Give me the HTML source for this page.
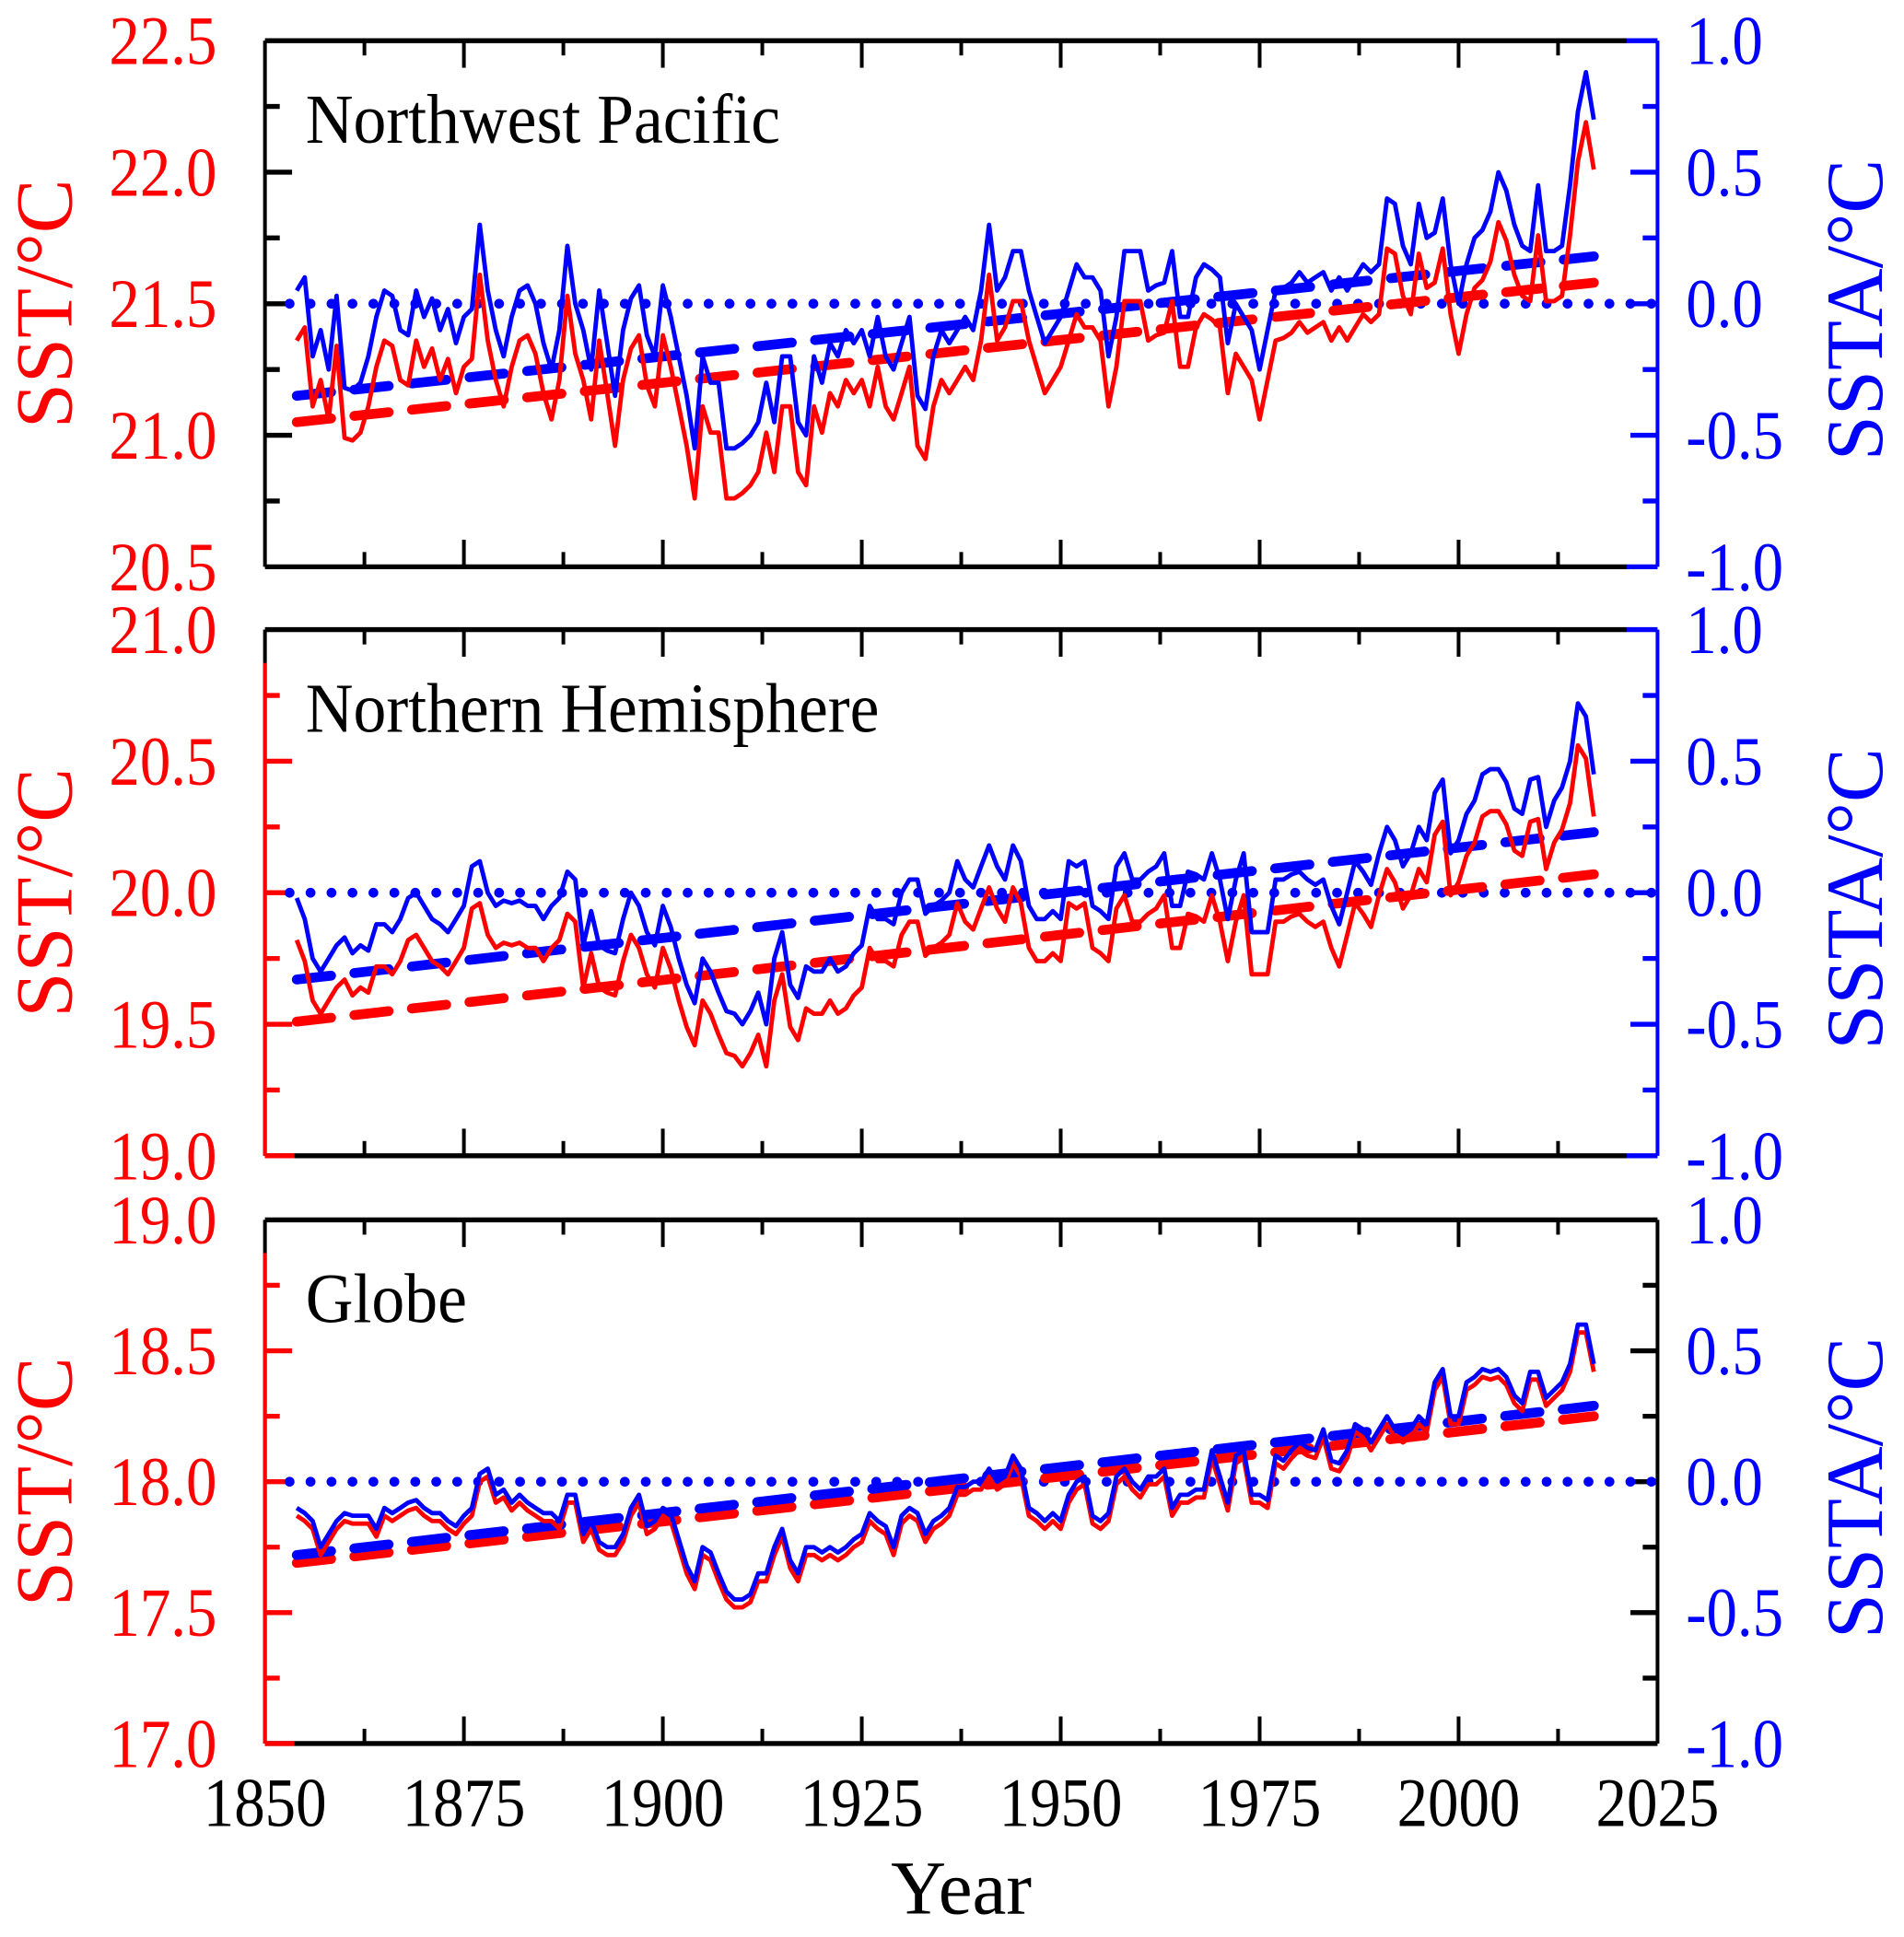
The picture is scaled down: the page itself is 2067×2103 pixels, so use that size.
<!DOCTYPE html>
<html><head><meta charset="utf-8"><style>
html,body{margin:0;padding:0;background:#fff}
svg{display:block}
text{font-family:"Liberation Serif","DejaVu Serif",serif}
</style></head><body>
<svg id="chart" width="2067" height="2103" viewBox="0 0 1545 1572" preserveAspectRatio="none" xmlns="http://www.w3.org/2000/svg">
<text x="780" y="1553" font-size="62" text-anchor="middle">Year</text>
</svg>
<script>
const years = [];
for (let y = 1854; y <= 2017; y++) years.push(y);
const xTickLabels = ["1850","1875","1900","1925","1950","1975","2000","2025"];
const panelTitles = ["Northwest Pacific","Northern Hemisphere","Globe"];
const sstTicks1 = ["20.5","21.0","21.5","22.0","22.5"];
const sstTicks2 = ["19.0","19.5","20.0","20.5","21.0"];
const sstTicks3 = ["17.0","17.5","18.0","18.5","19.0"];
const sstaTicks = ["-1.0","-0.5","0.0","0.5","1.0"];
const climatology = [21.31, 19.84, 17.97];
const sstaNWP = [0.05,0.1,-0.2,-0.1,-0.25,0.03,-0.32,-0.33,-0.3,-0.2,-0.05,0.05,0.03,-0.1,-0.12,0.05,-0.05,0.02,-0.1,-0.02,-0.15,-0.05,-0.02,0.3,0.05,-0.1,-0.2,-0.05,0.05,0.07,0.0,-0.15,-0.25,-0.1,0.22,0.0,-0.1,-0.25,0.05,-0.15,-0.35,-0.1,0.02,0.07,-0.12,-0.2,0.07,-0.05,-0.2,-0.35,-0.55,-0.2,-0.3,-0.3,-0.55,-0.55,-0.53,-0.5,-0.45,-0.3,-0.45,-0.2,-0.2,-0.45,-0.5,-0.2,-0.3,-0.15,-0.2,-0.1,-0.15,-0.1,-0.2,-0.05,-0.2,-0.25,-0.15,-0.05,-0.35,-0.4,-0.2,-0.1,-0.15,-0.1,-0.05,-0.1,0.05,0.3,0.05,0.1,0.2,0.2,0.05,-0.05,-0.15,-0.1,-0.05,0.05,0.15,0.1,0.1,0.05,-0.2,-0.05,0.2,0.2,0.2,0.05,0.07,0.08,0.2,-0.05,-0.05,0.1,0.15,0.13,0.1,-0.15,0.0,-0.05,-0.1,-0.25,-0.1,0.05,0.06,0.08,0.12,0.08,0.1,0.12,0.05,0.1,0.05,0.1,0.15,0.12,0.15,0.4,0.38,0.22,0.15,0.38,0.25,0.27,0.4,0.15,0.0,0.15,0.25,0.28,0.35,0.5,0.43,0.3,0.22,0.2,0.45,0.2,0.2,0.22,0.45,0.73,0.88,0.7];
const sstaNH = [-0.02,-0.1,-0.25,-0.3,-0.25,-0.2,-0.17,-0.23,-0.2,-0.22,-0.12,-0.12,-0.15,-0.1,-0.02,0.0,-0.05,-0.1,-0.12,-0.15,-0.1,-0.05,0.1,0.12,0.0,-0.05,-0.03,-0.04,-0.03,-0.05,-0.05,-0.1,-0.05,-0.02,0.08,0.05,-0.2,-0.07,-0.2,-0.22,-0.23,-0.1,0.0,-0.05,-0.15,-0.2,-0.05,-0.13,-0.25,-0.35,-0.42,-0.25,-0.3,-0.38,-0.45,-0.46,-0.5,-0.45,-0.38,-0.5,-0.25,-0.15,-0.35,-0.4,-0.28,-0.3,-0.3,-0.25,-0.3,-0.28,-0.23,-0.2,-0.05,-0.1,-0.1,-0.12,0.0,0.05,0.05,-0.08,-0.05,-0.03,0.0,0.12,0.05,0.02,0.1,0.18,0.1,0.05,0.18,0.12,-0.05,-0.1,-0.1,-0.07,-0.1,0.12,0.1,0.12,-0.05,-0.07,-0.1,0.1,0.15,0.05,0.05,0.08,0.1,0.15,-0.05,-0.05,0.08,0.07,0.05,0.15,0.05,-0.1,0.05,0.15,-0.15,-0.15,-0.15,0.05,0.05,0.07,0.08,0.05,0.03,0.05,-0.05,-0.12,0.0,0.12,0.08,0.03,0.15,0.25,0.2,0.1,0.15,0.25,0.2,0.38,0.43,0.15,0.2,0.3,0.35,0.45,0.47,0.47,0.42,0.32,0.3,0.43,0.44,0.25,0.35,0.4,0.5,0.72,0.67,0.45];
const sstaGlobe = [-0.1,-0.12,-0.15,-0.25,-0.2,-0.15,-0.12,-0.13,-0.13,-0.13,-0.18,-0.1,-0.12,-0.1,-0.08,-0.07,-0.1,-0.12,-0.12,-0.15,-0.17,-0.13,-0.1,0.03,0.05,-0.05,-0.03,-0.08,-0.05,-0.08,-0.1,-0.12,-0.12,-0.15,-0.05,-0.05,-0.2,-0.15,-0.23,-0.25,-0.25,-0.2,-0.1,-0.05,-0.17,-0.15,-0.1,-0.12,-0.22,-0.32,-0.38,-0.25,-0.27,-0.35,-0.42,-0.45,-0.45,-0.43,-0.35,-0.35,-0.25,-0.18,-0.3,-0.35,-0.25,-0.25,-0.27,-0.25,-0.27,-0.25,-0.22,-0.2,-0.12,-0.15,-0.17,-0.25,-0.13,-0.1,-0.12,-0.2,-0.15,-0.13,-0.1,-0.02,-0.02,0.0,0.0,0.05,0.0,0.02,0.1,0.05,-0.1,-0.12,-0.15,-0.12,-0.15,-0.05,0.0,0.02,-0.13,-0.15,-0.12,0.02,0.05,0.0,-0.03,0.02,0.02,0.05,-0.1,-0.05,-0.05,-0.03,-0.03,0.12,0.02,-0.08,0.1,0.12,-0.05,-0.05,-0.07,0.1,0.08,0.12,0.15,0.13,0.12,0.2,0.08,0.07,0.12,0.22,0.2,0.15,0.2,0.25,0.2,0.18,0.2,0.25,0.22,0.38,0.43,0.25,0.25,0.38,0.4,0.43,0.42,0.43,0.4,0.33,0.3,0.42,0.42,0.32,0.35,0.38,0.45,0.6,0.6,0.45];
const trendSSTA1 = [-0.35, 0.18];
const trendSSTA2 = [-0.33, 0.23];
const trendSSTA3 = [-0.28, 0.29];
const trendSST1 = [21.05, 21.58];
const trendSST2 = [19.51, 20.07];
const trendSST3 = [17.69, 18.25];

const NS = "http://www.w3.org/2000/svg";
const svg = document.getElementById("chart");
const X0 = 215, X1 = 1345;
const xScale = yr => X0 + (yr - 1850) / 175 * (X1 - X0);
function mk(tag, attrs, parent) {
  const e = document.createElementNS(NS, tag);
  for (const k in attrs) e.setAttribute(k, attrs[k]);
  (parent || svg).appendChild(e);
  return e;
}
const panels = [
  {top:33, bot:460, ssta:sstaNWP, sstT:sstTicks1, tS:trendSSTA1, tT:trendSST1, leftRed:false, rightBlue:true},
  {top:511, bot:938, ssta:sstaNH, sstT:sstTicks2, tS:trendSSTA2, tT:trendSST2, leftRed:true, rightBlue:true},
  {top:990, bot:1415, ssta:sstaGlobe, sstT:sstTicks3, tS:trendSSTA3, tT:trendSST3, leftRed:true, rightBlue:false}
];
panels.forEach((p, i) => {
  const g = mk("g", {});
  
  
  const lo = parseFloat(p.sstT[0]), hi = parseFloat(p.sstT[p.sstT.length - 1]);
  const ySST = v => p.bot - (v - lo) / (hi - lo) * (p.bot - p.top);
  const ySSTA = v => p.bot - (v + 1) / 2 * (p.bot - p.top);
  const clim = climatology[i];
  const rc = p.rightBlue ? "#0000ff" : "#000";
  mk("line", {x1:X0, y1:p.top, x2:X1 - (p.rightBlue ? 25 : 0), y2:p.top, stroke:"#000", "stroke-width":4}, g);
  mk("line", {x1:X0, y1:p.bot, x2:X1 - (p.rightBlue ? 25 : 0), y2:p.bot, stroke:"#000", "stroke-width":4}, g);
  if (p.rightBlue) {
    mk("line", {x1:X1 - 25, y1:p.top, x2:X1, y2:p.top, stroke:"#0000ff", "stroke-width":4}, g);
    mk("line", {x1:X1 - 25, y1:p.bot, x2:X1, y2:p.bot, stroke:"#0000ff", "stroke-width":4}, g);
  }
  mk("line", {x1:X1, y1:p.top, x2:X1, y2:p.bot, stroke:rc, "stroke-width":3}, g);
  mk("line", {x1:X0, y1:p.top, x2:X0, y2:p.bot, stroke:"#000", "stroke-width":3}, g);
  if (p.leftRed) {
    mk("line", {x1:X0, y1:p.top + 27, x2:X0, y2:p.bot, stroke:"#ff0000", "stroke-width":3}, g);
    mk("line", {x1:X0, y1:p.bot, x2:X0 + 24, y2:p.bot, stroke:"#ff0000", "stroke-width":4}, g);
  }
  for (let k = 1; k < 14; k++) {
    const yr = 1850 + k * 12.5, x = xScale(yr), L = k % 2 === 0 ? 22 : 12;
    mk("line", {x1:x, y1:p.bot, x2:x, y2:p.bot - L, stroke:"#000", "stroke-width":3}, g);
    mk("line", {x1:x, y1:p.top, x2:x, y2:p.top + L, stroke:"#000", "stroke-width":3}, g);
  }
  for (let k = 1; k < 8; k++) {
    const y = p.top + k * (p.bot - p.top) / 8, L = k % 2 === 0 ? 22 : 12;
    mk("line", {x1:X0, y1:y, x2:X0 + L, y2:y, stroke:p.leftRed && y > p.top + 27 ? "#ff0000" : "#000", "stroke-width":4}, g);
    mk("line", {x1:X1, y1:y, x2:X1 - L, y2:y, stroke:rc, "stroke-width":4}, g);
  }
  p.sstT.forEach(t => {
    const yy = ySST(parseFloat(t)) + 19;
    const el = mk("text", {x:0, y:0, "font-size":50, fill:"#ff0000", "text-anchor":"end", transform:`translate(176 ${yy}) scale(1 1.12)`}, g);
    el.textContent = t;
    
    
  });
  sstaTicks.forEach(t => {
    const yy = ySSTA(parseFloat(t)) + 19;
    const el = mk("text", {x:0, y:0, "font-size":50, fill:"#0000ff", transform:`translate(1368 ${yy}) scale(1 1.12)`}, g);
    el.textContent = t;
    
    
  });
  const midY = (p.top + p.bot) / 2;
  const lt = mk("text", {x:0, y:0, "font-size":66, fill:"#ff0000", "text-anchor":"middle", transform:`translate(58 ${midY}) rotate(-90)`}, g);
  lt.textContent = "SST/°C";
  
  
  const rt = mk("text", {x:0, y:0, "font-size":66, fill:"#0000ff", "text-anchor":"middle", transform:`translate(1527 ${midY + 5}) rotate(-90)`}, g);
  rt.textContent = "SSTA/°C";
  
  
  const tt = mk("text", {x:0, y:0, "font-size":52, fill:"#000", transform:`translate(248 ${p.top + 83}) scale(1.03 1.1)`}, g);
  tt.textContent = panelTitles[i];
  
  
  const z = mk("line", {x1:X0 + 20, y1:ySSTA(0), x2:X1, y2:ySSTA(0), stroke:"#0000ff", "stroke-width":8, "stroke-linecap":"round", "stroke-dasharray":"0 17"}, g);
  
  
  const y0 = years[0], y1 = years[years.length - 1];
  const tr = mk("line", {x1:xScale(y0), y1:ySST(p.tT[0]), x2:xScale(y1), y2:ySST(p.tT[1]), stroke:"#ff0000", "stroke-width":8, "stroke-linecap":"round", "stroke-dasharray":"28 19"}, g);
  
  
  const tb = mk("line", {x1:xScale(y0), y1:ySSTA(p.tS[0]), x2:xScale(y1), y2:ySSTA(p.tS[1]), stroke:"#0000ff", "stroke-width":8, "stroke-linecap":"round", "stroke-dasharray":"28 19"}, g);
  
  
  const red = years.map((yr, k) => xScale(yr).toFixed(1) + "," + ySST(clim + p.ssta[k]).toFixed(1)).join(" ");
  const blue = years.map((yr, k) => xScale(yr).toFixed(1) + "," + ySSTA(p.ssta[k]).toFixed(1)).join(" ");
  const rl = mk("polyline", {points:red, fill:"none", stroke:"#ff0000", "stroke-width":3.6, "stroke-linejoin":"round"}, g);
  
  
  const bl = mk("polyline", {points:blue, fill:"none", stroke:"#0000ff", "stroke-width":3.6, "stroke-linejoin":"round"}, g);
  
  
});
xTickLabels.forEach(t => {
  const el = mk("text", {x:0, y:0, "font-size":50, "text-anchor":"middle", transform:`translate(${xScale(parseFloat(t))} 1482) scale(1 1.12)`});
  el.textContent = t;
  
  
});
</script>
</body></html>
